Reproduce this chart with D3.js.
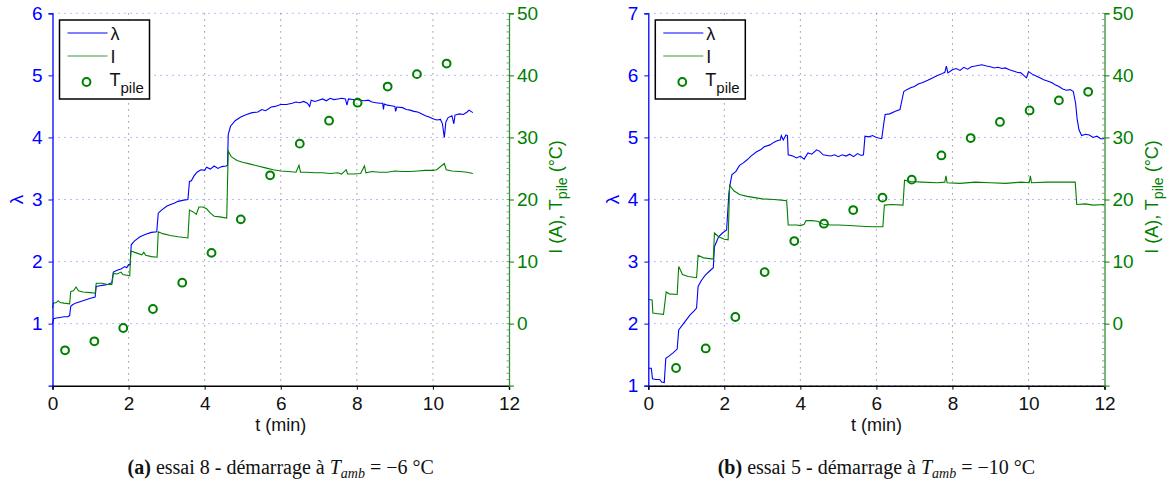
<!DOCTYPE html>
<html><head><meta charset="utf-8">
<script src="https://cdn.jsdelivr.net/npm/d3@7"></script>
<style>
body{margin:0;background:#fff;}
</style></head>
<body><svg id="c" width="1172" height="485"></svg>
<script>
// ---------- Data ----------
const xTicks = [0,2,4,6,8,10,12];
const rightTicks = [0,10,20,30,40,50];
const lamTicksA = [1,2,3,4,5,6];
const lamTicksB = [1,2,3,4,5,6,7];

// Panel (a) essai 8
const lamA_t = [0,0.03,0.1,0.2,0.3,0.4,0.45,0.48,0.52,0.6,0.7,0.8,0.9,1.0,1.12,1.15,1.25,1.35,1.45,1.56,1.6,1.7,1.8,1.9,1.95,2.0,2.04,2.07,2.15,2.3,2.45,2.6,2.74,2.78,2.85,3.0,3.1,3.2,3.3,3.45,3.56,3.6,3.65,3.72,3.8,3.9,4.0,4.05,4.15,4.25,4.35,4.45,4.56,4.6,4.62,4.68,4.8,4.95,5.1,5.25,5.4,5.5,5.6,5.75,5.85,6.0,6.15,6.3,6.4,6.5,6.6,6.7,6.76,6.8,6.9,7.0,7.1,7.2,7.3,7.4,7.5,7.6,7.7,7.74,7.78,7.9,8.0,8.1,8.2,8.3,8.4,8.5,8.6,8.68,8.7,8.72,8.8,8.9,9.0,9.02,9.05,9.2,9.3,9.4,9.5,9.6,9.7,9.8,9.9,10.0,10.1,10.2,10.25,10.3,10.34,10.4,10.5,10.55,10.58,10.7,10.8,10.9,10.95,11.0,11.05];
const lamA_v = [1.0,1.08,1.09,1.1,1.11,1.11,1.13,1.28,1.3,1.33,1.35,1.37,1.39,1.41,1.43,1.6,1.61,1.62,1.63,1.66,1.83,1.86,1.88,1.92,1.9,1.95,1.95,2.27,2.33,2.4,2.44,2.47,2.48,2.78,2.82,2.89,2.92,2.94,2.97,2.99,3.0,3.29,3.3,3.38,3.44,3.48,3.47,3.52,3.49,3.54,3.5,3.53,3.54,3.55,4.05,4.18,4.27,4.33,4.37,4.4,4.41,4.45,4.43,4.49,4.5,4.53,4.53,4.55,4.57,4.56,4.58,4.55,4.5,4.6,4.58,4.6,4.62,4.59,4.63,4.61,4.62,4.63,4.62,4.52,4.62,4.61,4.61,4.6,4.59,4.6,4.57,4.56,4.55,4.55,4.45,4.54,4.52,4.51,4.5,4.42,4.49,4.48,4.45,4.44,4.42,4.41,4.38,4.35,4.33,4.3,4.28,4.29,4.22,4.0,4.25,4.32,4.35,4.22,4.36,4.38,4.37,4.41,4.44,4.42,4.4];
const curA_t = [0,0.02,0.1,0.15,0.2,0.3,0.45,0.48,0.55,0.62,0.68,0.8,1.0,1.12,1.15,1.3,1.45,1.56,1.6,1.7,1.8,1.85,1.95,2.03,2.06,2.2,2.35,2.4,2.45,2.6,2.75,2.78,2.9,3.1,3.3,3.56,3.6,3.7,3.78,3.85,3.95,4.05,4.15,4.25,4.4,4.58,4.62,4.7,4.85,5.0,5.2,5.4,5.6,5.8,6.0,6.2,6.4,6.48,6.52,6.7,6.9,7.1,7.3,7.5,7.6,7.72,7.76,7.9,8.1,8.2,8.24,8.4,8.6,8.8,9.0,9.2,9.4,9.6,9.8,10.0,10.1,10.3,10.35,10.5,10.7,10.9,11.05];
const curA_v = [2.5,3.3,3.4,3.7,3.4,3.3,3.2,5.2,5.3,5.9,5.3,5.1,5.0,4.9,6.5,6.5,6.3,6.3,8.1,8.0,8.3,7.9,7.8,7.7,11.7,11.4,11.1,11.5,11.0,10.8,10.7,14.8,14.5,14.2,14.0,13.8,18.3,18.0,17.6,18.8,18.8,18.5,17.8,17.3,17.2,17.0,27.8,26.9,26.3,26.0,25.7,25.4,25.1,24.8,24.6,24.5,24.4,25.5,24.4,24.4,24.3,24.3,24.2,24.3,24.1,24.8,24.1,24.1,24.2,25.4,24.3,24.5,24.4,24.4,24.6,24.5,24.5,24.6,24.7,24.7,24.8,25.8,24.8,24.6,24.5,24.4,24.2];
const tpA_t = [0.33,1.10,1.86,2.64,3.41,4.18,4.95,5.72,6.50,7.27,8.02,8.81,9.58,10.36];
const tpA_v = [-4.3,-2.85,-0.7,2.36,6.6,11.4,16.8,23.9,29.0,32.7,35.6,38.2,40.2,41.9];

// Panel (b) essai 5
const lamB_t = [0,0.08,0.11,0.2,0.3,0.35,0.42,0.46,0.55,0.65,0.76,0.8,0.9,1.0,1.1,1.2,1.27,1.31,1.4,1.5,1.6,1.71,1.74,1.85,1.95,2.06,2.12,2.15,2.2,2.3,2.4,2.5,2.6,2.7,2.85,2.95,3.05,3.2,3.3,3.4,3.47,3.5,3.55,3.62,3.66,3.68,3.8,3.9,4.0,4.1,4.2,4.3,4.43,4.5,4.6,4.7,4.8,4.9,5.0,5.1,5.2,5.3,5.4,5.5,5.6,5.66,5.7,5.8,5.9,6.0,6.14,6.2,6.23,6.35,6.5,6.62,6.72,6.8,6.9,7.0,7.1,7.2,7.35,7.45,7.55,7.7,7.8,7.84,7.88,8.0,8.1,8.2,8.3,8.4,8.5,8.6,8.77,8.9,9.0,9.1,9.2,9.3,9.39,9.5,9.6,9.7,9.8,9.95,10.0,10.1,10.2,10.3,10.4,10.5,10.62,10.7,10.8,10.9,11.0,11.1,11.18,11.24,11.28,11.33,11.4,11.5,11.6,11.7,11.8,11.9,12.0];
const lamB_v = [1.28,1.28,1.11,1.1,1.1,1.06,1.05,1.44,1.48,1.53,1.59,1.9,1.98,2.06,2.14,2.2,2.25,2.6,2.7,2.78,2.84,2.9,3.24,3.4,3.46,3.51,4.1,4.24,4.4,4.45,4.55,4.59,4.64,4.7,4.77,4.8,4.85,4.88,4.92,4.95,4.96,5.03,4.96,5.04,5.03,4.72,4.7,4.67,4.7,4.65,4.75,4.73,4.8,4.78,4.72,4.71,4.7,4.72,4.69,4.72,4.7,4.73,4.69,4.74,4.71,4.72,5.02,5.01,5.03,5.0,4.98,5.25,5.37,5.38,5.42,5.45,5.74,5.77,5.8,5.82,5.86,5.88,5.92,5.95,5.98,6.02,6.05,6.15,6.04,6.09,6.11,6.08,6.13,6.1,6.14,6.15,6.17,6.15,6.14,6.12,6.13,6.11,6.12,6.09,6.07,6.05,6.04,5.96,6.06,6.02,5.99,5.96,5.93,5.91,5.88,5.85,5.82,5.78,5.76,5.77,5.74,5.55,5.3,5.12,5.03,5.05,5.04,5.0,5.02,4.98,4.98];
const curB_t = [0,0.1,0.12,0.25,0.4,0.47,0.55,0.76,0.8,0.9,1.05,1.27,1.31,1.45,1.71,1.74,1.85,2.0,2.1,2.14,2.25,2.4,2.6,2.8,3.0,3.3,3.5,3.64,3.68,3.9,4.0,4.1,4.15,4.3,4.45,4.6,4.8,5.0,5.3,5.6,5.9,6.17,6.21,6.4,6.7,6.74,6.9,7.2,7.6,7.8,7.83,7.86,8.2,8.6,9.0,9.4,9.8,10.02,10.05,10.08,10.5,11.0,11.23,11.27,11.5,11.7,12.0];
const curB_v = [3.9,3.8,1.7,1.6,1.5,5.1,4.8,4.7,9.2,7.9,7.6,7.4,11.0,10.6,10.4,14.6,14.0,13.6,13.5,22.3,21.4,20.8,20.5,20.3,20.1,20.0,19.9,19.8,15.9,15.9,15.8,16.0,16.6,16.6,16.5,16.0,15.9,15.9,15.8,15.7,15.6,15.6,19.1,19.2,19.1,23.1,22.9,22.8,22.7,22.8,23.8,22.7,22.6,22.8,22.7,22.6,22.8,22.7,23.8,22.7,22.8,22.8,22.8,19.2,19.3,19.1,19.2];
const tpB_t = [0.73,1.51,2.29,3.06,3.84,4.62,5.39,6.16,6.93,7.71,8.48,9.25,10.03,10.80,11.57];
const tpB_v = [-7.15,-4.0,1.07,8.3,13.3,16.1,18.3,20.3,23.2,27.1,29.9,32.5,34.35,35.97,37.35];

const legendLabels = ["λ","I","T"];
const captionA = {tag:"(a)", text:" essai 8 - démarrage à ", val:" = −6 °C"};
const captionB = {tag:"(b)", text:" essai 5 - démarrage à ", val:" = −10 °C"};

// ---------- Drawing ----------
const SANS = "'Liberation Sans', Arial, Helvetica, sans-serif";
const SERIF = "'Liberation Serif', 'Times New Roman', serif";
const svg = d3.select("#c").style("font-family", SANS);
const BLUE = "#0000ff", GREEN = "#008000";

function zip(t, v){ return t.map((d,i)=>[d, v[i]]); }

function panel(o){
  const g = svg.append("g");
  const x = d3.scaleLinear().domain([0,12]).range([o.x0, o.x1]);
  const yL = d3.scaleLinear().domain(o.lamDomain).range([o.yB, o.yT]);
  const yR = d3.scaleLinear().domain([-10,50]).range([o.yB, o.yT]);

  g.append("g").selectAll("line").data(o.lamTicks).join("line")
    .attr("x1", o.x0).attr("x2", o.x1)
    .attr("y1", d=>yL(d)).attr("y2", d=>yL(d))
    .attr("stroke", "#8c8cff").attr("stroke-width", 1).attr("stroke-dasharray", "1.2,4.8");
  g.append("g").selectAll("line").data(xTicks.slice(1,-1)).join("line")
    .attr("x1", d=>x(d)).attr("x2", d=>x(d))
    .attr("y1", o.yT).attr("y2", o.yB)
    .attr("stroke", "#777").attr("stroke-width", 1).attr("stroke-dasharray", "1.2,4.8");

  const line = (ys) => d3.line().x(d=>x(d[0])).y(d=>ys(d[1]));
  g.append("path").datum(zip(o.lamT, o.lamV)).attr("d", line(yL))
    .attr("fill","none").attr("stroke", BLUE).attr("stroke-width", 1.1);
  g.append("path").datum(zip(o.curT, o.curV)).attr("d", line(yR))
    .attr("fill","none").attr("stroke", GREEN).attr("stroke-width", 1.1);
  g.append("g").selectAll("circle").data(zip(o.tpT, o.tpV)).join("circle")
    .attr("cx", d=>x(d[0])).attr("cy", d=>yR(d[1])).attr("r", 3.9)
    .attr("fill","none").attr("stroke", GREEN).attr("stroke-width", 2);

  const fmt = d3.format("d");
  const ax = g.append("g").attr("transform", `translate(0,${o.yB})`)
    .call(d3.axisBottom(x).tickValues(xTicks).tickFormat(fmt).tickSize(4).tickPadding(7));
  ax.select(".domain").attr("stroke","#000").attr("stroke-width",1.5);
  ax.selectAll(".tick line").attr("stroke","#000");
  ax.selectAll("text").style("font-size","19px").style("font-family",SANS).attr("fill","#111");

  const al = g.append("g").attr("transform", `translate(${o.x0},0)`)
    .call(d3.axisLeft(yL).tickValues(o.lamTicks).tickFormat(fmt).tickSize(4).tickPadding(6));
  al.select(".domain").attr("stroke", BLUE).attr("stroke-width",1.3);
  al.selectAll(".tick line").attr("stroke", BLUE);
  al.selectAll("text").style("font-size","19px").style("font-family",SANS).attr("fill", BLUE);

  g.append("g").selectAll("line").data(d3.range(-10,51,1)).join("line")
    .attr("x1", o.x1-2.5).attr("x2", o.x1)
    .attr("y1", d=>yR(d)).attr("y2", d=>yR(d))
    .attr("stroke", "#5aa05a").attr("stroke-width", 0.8);
  const ar = g.append("g").attr("transform", `translate(${o.x1},0)`)
    .call(d3.axisRight(yR).tickValues(rightTicks).tickFormat(fmt).tickSize(5).tickPadding(3));
  ar.select(".domain").attr("stroke", "#3a8f3a").attr("stroke-width",1.3);
  ar.selectAll(".tick line").attr("stroke", GREEN);
  ar.selectAll("text").style("font-size","19px").style("font-family",SANS).attr("fill", GREEN);

  g.append("text").attr("x", (o.x0+o.x1)/2).attr("y", 431).attr("text-anchor","middle")
    .style("font-size","18px").attr("fill","#111").text("t (min)");
  g.append("text").attr("transform", `translate(${o.x0-36},${yL(o.lamMid)}) rotate(-90)`)
    .attr("text-anchor","middle").attr("dy","0.35em")
    .style("font-size","19px").attr("fill", BLUE).text("λ");
  const rt = g.append("text").attr("transform", `translate(${o.x1+47},${o.rLabelY}) rotate(-90)`)
    .attr("text-anchor","middle").attr("dy","0.35em").style("font-size","18px").attr("fill", GREEN);
  rt.append("tspan").text("I (A), T");
  rt.append("tspan").attr("dy", 5).style("font-size","14px").text("pile");
  rt.append("tspan").attr("dy", -5).text(" (°C)");

  const lx = o.x0 + 7, ly = 20;
  const lg = g.append("g");
  lg.append("rect").attr("x", lx).attr("y", ly).attr("width", 90).attr("height", 79)
    .attr("fill","#fff").attr("stroke","#000").attr("stroke-width",1.5);
  lg.append("line").attr("x1", lx+8).attr("x2", lx+48).attr("y1", ly+13).attr("y2", ly+13)
    .attr("stroke", BLUE).attr("stroke-width", 1.1);
  lg.append("line").attr("x1", lx+8).attr("x2", lx+48).attr("y1", ly+36).attr("y2", ly+36)
    .attr("stroke", "#3f9a3f").attr("stroke-width", 1.1);
  lg.append("circle").attr("cx", lx+27).attr("cy", ly+62).attr("r", 3.9)
    .attr("fill","none").attr("stroke", GREEN).attr("stroke-width", 2);
  lg.append("text").attr("x", lx+51).attr("y", ly+20).style("font-size","18px").attr("fill","#111").text(legendLabels[0]);
  lg.append("text").attr("x", lx+51).attr("y", ly+43).style("font-size","18px").attr("fill","#111").text(legendLabels[1]);
  const tl = lg.append("text").attr("x", lx+50).attr("y", ly+66).style("font-size","18px").attr("fill","#111");
  tl.append("tspan").text(legendLabels[2]);
  tl.append("tspan").attr("dy", 7).style("font-size","15px").text("pile");

  const c = g.append("text").attr("x", (o.x0+o.x1)/2).attr("y", 474).attr("text-anchor","middle")
    .style("font-family", SERIF).style("font-size","20px").attr("fill","#111");
  c.append("tspan").attr("font-weight","bold").text(o.cap.tag);
  c.append("tspan").text(o.cap.text);
  c.append("tspan").attr("font-style","italic").text("T");
  c.append("tspan").attr("font-style","italic").style("font-size","14px").attr("dy", 4).text("amb");
  c.append("tspan").attr("dy", -4).text(o.cap.val);
}

panel({x0:52.5, x1:509, yT:13.3, yB:385.7, lamDomain:[0,6], lamTicks:lamTicksA, lamMid:3,
  lamT:lamA_t, lamV:lamA_v, curT:curA_t, curV:curA_v, tpT:tpA_t, tpV:tpA_v, rLabelY:197, cap:captionA});
panel({x0:648.3, x1:1104.5, yT:13.3, yB:385.7, lamDomain:[1,7], lamTicks:lamTicksB, lamMid:4,
  lamT:lamB_t, lamV:lamB_v, curT:curB_t, curV:curB_v, tpT:tpB_t, tpV:tpB_v, rLabelY:197, cap:captionB});
</script></body></html>
